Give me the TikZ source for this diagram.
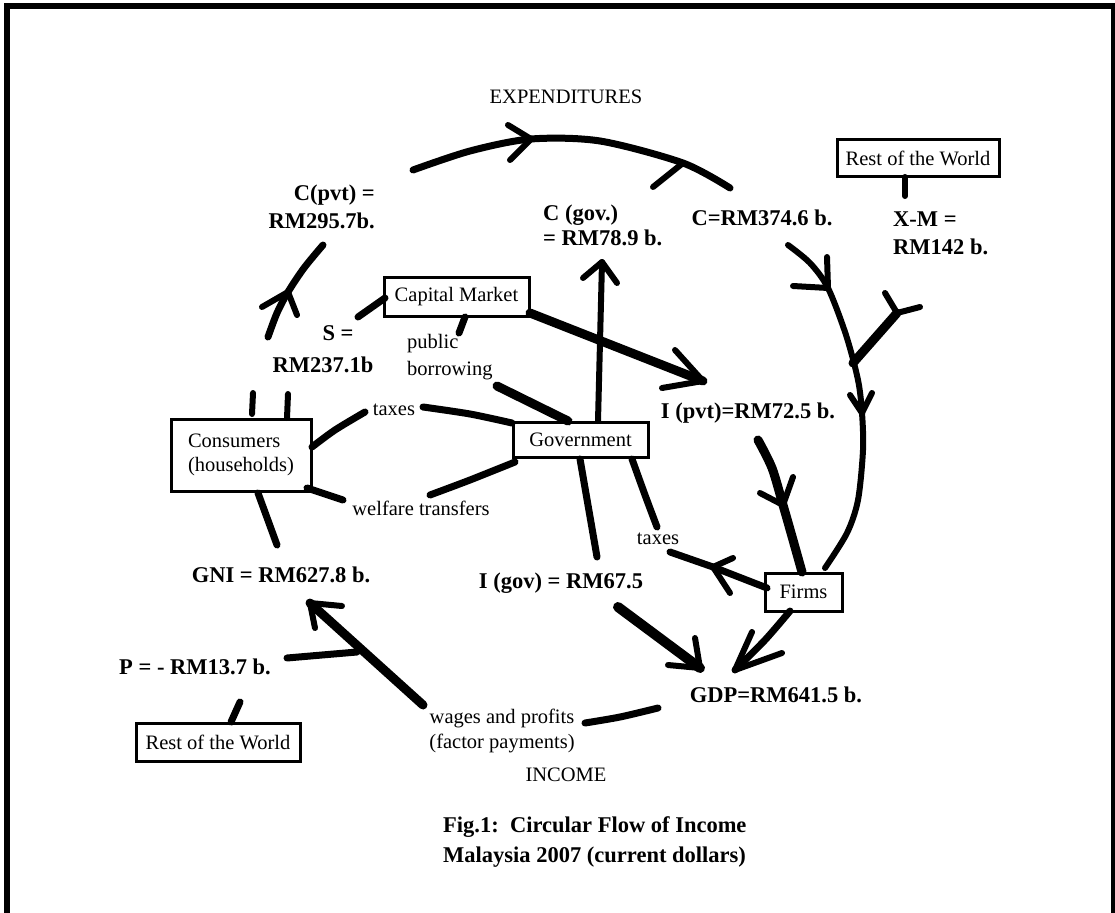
\documentclass[tikz,border=0pt]{standalone}
\usepackage{fontspec}
\setmainfont{Liberation Serif}
\begin{document}
\begin{tikzpicture}[x=1pt,y=-1pt,
  txt/.style={inner sep=0pt, font=\fontsize{20.5}{25}\selectfont},
  bld/.style={inner sep=0pt, font=\fontsize{22.5}{28}\selectfont\bfseries},
  box/.style={draw, line width=3pt, inner sep=0pt, font=\fontsize{20.5}{24}\selectfont},
  flow/.style={line width=7pt, line cap=round, line join=round},
  heavy/.style={line width=9pt, line cap=round, line join=round},
  slim/.style={line width=6pt, line cap=round, line join=round},
  barb/.style={line width=6pt, line cap=round, line join=round},
]
\useasboundingbox (0,0) rectangle (1115,912);
\draw[line width=6pt] (7,6) rectangle (1114,916);

% ---------- texts and boxes ----------
\node[txt] (exp) at (566,97) {EXPENDITURES};
\node[bld, align=right, anchor=east] (cpvt) at (375,207) {C(pvt) =\\RM295.7b.};
\node[bld, align=left, anchor=west, font=\fontsize{22.5}{25}\selectfont\bfseries] (cgov) at (543,225) {C (gov.)\\= RM78.9 b.};
\node[bld] (ctot) at (762,218) {C=RM374.6 b.};
\node[box, minimum width=162pt, minimum height=37pt] (row1) at (918,158.5) {Rest of the World};
\node[bld, align=left, anchor=west] (xm) at (893,233) {X-M =\\RM142 b.};
\node[box, minimum width=145pt, minimum height=39pt] (cap) at (456.5,296.5) {Capital Market};
\node[bld] (s1) at (338,333) {S =};
\node[bld] (s2) at (323,365) {RM237.1b};
\node[txt, align=left, anchor=west, font=\fontsize{20.5}{27}\selectfont] (pb) at (407,357.5) {public\\borrowing};
\node[txt] (tax1) at (394,410) {taxes};
\node[box, align=left, minimum width=140pt, minimum height=72pt] (cons) at (241,455) {Consumers\\(households)};
\node[box, minimum width=135pt, minimum height=35pt] (gov) at (580.5,439.5) {Government};
\node[txt] (welf) at (421,508) {welfare transfers};
\node[bld] (ipvt) at (748,413) {I (pvt)=RM72.5 b.};
\node[txt] (tax2) at (658,539) {taxes};
\node[bld] (igov) at (561,583) {I (gov) = RM67.5};
\node[box, minimum width=77pt, minimum height=38pt] (firms) at (803.5,592) {Firms};
\node[bld] (gni) at (281,575) {GNI = RM627.8 b.};
\node[bld] (p) at (195,667) {P = - RM13.7 b.};
\node[box, minimum width=164pt, minimum height=38pt] (row2) at (218,742) {Rest of the World};
\node[bld] (gdp) at (776,695) {GDP=RM641.5 b.};
\node[txt, align=center] (wages) at (502,730.5) {wages and profits\\(factor payments)};
\node[txt] (inc) at (566,775) {INCOME};
\node[bld, align=left, anchor=west, font=\fontsize{22.5}{30}\selectfont\bfseries] (fig) at (443,842) {Fig.1:\ \ Circular Flow of Income\\Malaysia 2007 (current dollars)};

% ---------- coordinates ----------
% top arc
\coordinate (ta0) at (413,170); \coordinate (ta1) at (470,151); \coordinate (ta2) at (531,139);
\coordinate (ta3) at (600,141); \coordinate (ta4) at (683,163); \coordinate (ta5) at (730,188);
% right arc
\coordinate (ra0) at (788,245); \coordinate (ra1) at (810,263); \coordinate (ra2) at (828,288);
\coordinate (ra3) at (846,335); \coordinate (ra4) at (858,380); \coordinate (ra5) at (862,413);
\coordinate (ra6) at (863,450); \coordinate (ra7) at (858,500); \coordinate (ra8) at (847,533);
\coordinate (ra9) at (825,568);
% X-M
\coordinate (xm0) at (897,313); \coordinate (xm1) at (853,363);
\coordinate (rw0) at (905,177); \coordinate (rw1) at (905,196);
% I(pvt) -> firms
\coordinate (if0) at (758,440); \coordinate (if1) at (772,468); \coordinate (if2) at (783,505);
\coordinate (if3) at (793,540); \coordinate (if4) at (802,572);
% firms -> taxes
\coordinate (ft0) at (767,588); \coordinate (ft1) at (713,567); \coordinate (ft2) at (670,552);
% gov -> taxes2
\coordinate (gt0) at (632,459); \coordinate (gt1) at (645,495); \coordinate (gt2) at (657,527);
% gov -> I(gov)
\coordinate (gi0) at (580,459); \coordinate (gi1) at (597,557);
% I(gov) -> GDP
\coordinate (ig0) at (618,607); \coordinate (ig1) at (700,668);
% firms -> GDP
\coordinate (fg0) at (790,611); \coordinate (fg1) at (765,640); \coordinate (fg2) at (735,670);
% GDP -> wages
\coordinate (gw0) at (658,708); \coordinate (gw1) at (620,717); \coordinate (gw2) at (585,723);
% wages -> GNI
\coordinate (wg0) at (423,705); \coordinate (wg1) at (310,603);
\coordinate (pl0) at (287,658); \coordinate (pl1) at (357,652);
% rest of world bottom stub
\coordinate (rb0) at (240,702); \coordinate (rb1) at (231,722);
% GNI -> consumers
\coordinate (gc0) at (277,545); \coordinate (gc1) at (258,493);
% consumers top stubs
\coordinate (cs0) at (253,393); \coordinate (cs1) at (252,414);
\coordinate (cs2) at (288,394); \coordinate (cs3) at (287,418);
% left arc
\coordinate (la0) at (268,337); \coordinate (la1) at (277,313); \coordinate (la2) at (288,292);
\coordinate (la3) at (304,268); \coordinate (la4) at (323,245);
% S -> capital market
\coordinate (sc0) at (358,317); \coordinate (sc1) at (385,298);
% capital market -> I(pvt)
\coordinate (ci0) at (530,313); \coordinate (ci1) at (703,381);
% gov -> C(gov)
\coordinate (gg0) at (598,421); \coordinate (gg1) at (602,262);
% public borrowing
\coordinate (pb0) at (465,317); \coordinate (pb1) at (459,333);
\coordinate (pb2) at (497,386); \coordinate (pb3) at (568,421);
% taxes (households)
\coordinate (th0) at (312,447); \coordinate (th1) at (335,430); \coordinate (th2) at (365,412);
\coordinate (th3) at (423,407); \coordinate (th4) at (470,414); \coordinate (th5) at (512,423);
% welfare transfers
\coordinate (wt0) at (515,462); \coordinate (wt1) at (470,480); \coordinate (wt2) at (430,495);
\coordinate (wt3) at (343,500); \coordinate (wt4) at (307,488);

% ---------- strokes ----------
\draw[flow] plot[smooth] coordinates {(ta0) (ta1) (ta2) (ta3) (ta4) (ta5)};
\draw[slim] plot[smooth] coordinates {(ra0) (ra1) (ra2) (ra3) (ra4) (ra5) (ra6) (ra7) (ra8) (ra9)};
\draw[heavy] (xm0) -- (xm1);
\draw[slim] (rw0) -- (rw1);
\draw[heavy] plot[smooth] coordinates {(if0) (if1) (if2) (if3) (if4)};
\draw[flow] (ft0) -- (ft1) -- (ft2);
\draw[flow] plot[smooth] coordinates {(gt0) (gt1) (gt2)};
\draw[flow] (gi0) -- (gi1);
\draw[line width=10pt, line cap=round] (ig0) -- (ig1);
\draw[flow] plot[smooth] coordinates {(fg0) (fg1) (fg2)};
\draw[flow] plot[smooth] coordinates {(gw0) (gw1) (gw2)};
\draw[heavy] (wg0) -- (wg1);
\draw[flow] (pl0) -- (pl1);
\draw[flow] (rb0) -- (rb1);
\draw[flow] (gc0) -- (gc1);
\draw[slim] (cs0) -- (cs1);
\draw[slim] (cs2) -- (cs3);
\draw[flow] plot[smooth] coordinates {(la0) (la1) (la2) (la3) (la4)};
\draw[flow] (sc0) -- (sc1);
\draw[heavy] (ci0) -- (ci1);
\draw[slim] (gg0) -- (gg1);
\draw[flow] (pb0) -- (pb1);
\draw[heavy] (pb2) -- (pb3);
\draw[flow] plot[smooth] coordinates {(th0) (th1) (th2)};
\draw[flow] plot[smooth] coordinates {(th3) (th4) (th5)};
\draw[flow] plot[smooth] coordinates {(wt0) (wt1) (wt2)};
\draw[flow] (wt3) -- (wt4);

% ---------- arrow heads (barbs) ----------
\draw[barb] ([shift={(-23,-14)}]ta2) -- (ta2) -- ([shift={(-21,21)}]ta2);
\draw[barb] (ta4) -- ([shift={(-30,24)}]ta4);
\draw[barb] ([shift={(-35,-2)}]ra2) -- (ra2) -- ([shift={(-1,-31)}]ra2);
\draw[barb] ([shift={(-12,-18)}]ra5) -- (ra5) -- ([shift={(10,-20)}]ra5);
\draw[barb] ([shift={(-12,-20)}]xm0) -- (xm0) -- ([shift={(23,-6)}]xm0);
\draw[barb] ([shift={(-26,15)}]la2) -- (la2) -- ([shift={(9,23)}]la2);
\draw[barb] ([shift={(-23,-12)}]if2) -- (if2) -- ([shift={(10,-28)}]if2);
\draw[barb] ([shift={(20,-9)}]ft1) -- (ft1) -- ([shift={(17,26)}]ft1);
\draw[barb] ([shift={(-32,-3)}]ig1) -- (ig1) -- ([shift={(-5,-30)}]ig1);
\draw[barb] ([shift={(17,-38)}]fg2) -- (fg2) -- ([shift={(47,-17)}]fg2);
\draw[barb] ([shift={(32,3)}]wg1) -- (wg1) -- ([shift={(5,25)}]wg1);
\draw[barb] ([shift={(-28,-31)}]ci1) -- (ci1) -- ([shift={(-41,7)}]ci1);
\draw[barb] ([shift={(-19,16)}]gg1) -- (gg1) -- ([shift={(15,21)}]gg1);
\end{tikzpicture}
\end{document}
